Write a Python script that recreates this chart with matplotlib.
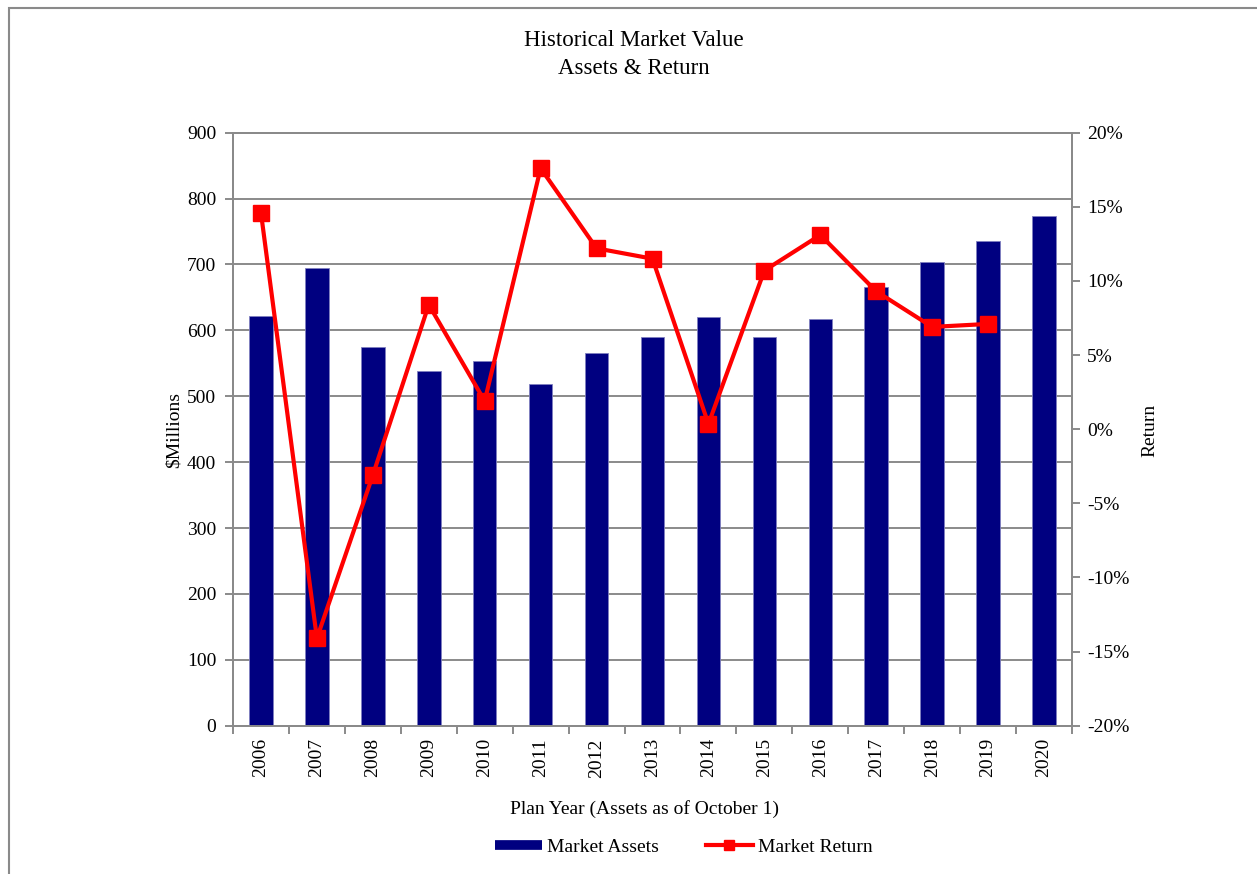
import matplotlib
matplotlib.use("Agg")
import matplotlib.pyplot as plt
import numpy as np
from matplotlib.lines import Line2D
from matplotlib.patches import Rectangle
from matplotlib.ticker import FuncFormatter, MultipleLocator, FixedLocator

years = ["2006", "2007", "2008", "2009", "2010", "2011", "2012", "2013",
         "2014", "2015", "2016", "2017", "2018", "2019", "2020"]
market_assets = [622, 694, 575, 538, 554, 518, 565, 590, 620, 590, 617, 666, 704, 735, 773]
market_return = [14.6, -14.1, -3.1, 8.4, 1.9, 17.6, 12.2, 11.5, 0.35, 10.7, 13.1, 9.3, 6.9, 7.1, np.nan]

plt.rcParams['font.family'] = ['Liberation Serif', 'DejaVu Serif']
FS = 14
GRAY = '#8a8a8a'
NAVY = '#000080'
RED = '#ff0000'

W, H = 1257, 874
fig = plt.figure(figsize=(W / 100, H / 100), dpi=100)

# outer frame (partially cropped in reference)
fig.patches.append(Rectangle((9 / W, -0.1), 1.2, 1 - 8 / H + 0.1, transform=fig.transFigure,
                             fill=False, edgecolor=GRAY, linewidth=1.5))

left, right, top, bottom = 233 / W, 1072 / W, 1 - 132.7 / H, 1 - 725.7 / H
ax = fig.add_axes([left, bottom, right - left, top - bottom])
ax2 = ax.twinx()

x = np.arange(len(years))
ax.bar(x, market_assets, width=0.42, color=NAVY, edgecolor='#8080c0', linewidth=0.6, zorder=3)
ax.set_xlim(-0.5, len(years) - 0.5)
ax.set_ylim(0, 900)
ax.yaxis.set_major_locator(MultipleLocator(100))
ax.grid(axis='y', color=GRAY, linewidth=1.4, zorder=0)
ax.set_axisbelow(True)

ax.xaxis.set_major_locator(FixedLocator(np.arange(-0.5, len(years), 1.0)))
ax.xaxis.set_major_formatter(FuncFormatter(lambda v, p: ""))
ax.xaxis.set_minor_locator(FixedLocator(x))
ax.set_xticklabels(years, minor=True, rotation=90, fontsize=FS)
ax.tick_params(axis='x', which='major', direction='out', length=6, color=GRAY, width=1.4)
ax.tick_params(axis='x', which='minor', length=0, pad=9)
ax.tick_params(axis='y', direction='out', length=6, color=GRAY, width=1.4, labelsize=FS, pad=6)

for s in ax.spines.values():
    s.set_color(GRAY)
    s.set_linewidth(1.4)
for s in ax2.spines.values():
    s.set_color(GRAY)
    s.set_linewidth(1.4)

ax2.plot(x, market_return, color=RED, linewidth=3, marker='s', markersize=11,
         markerfacecolor=RED, markeredgecolor=RED, zorder=5)
ax2.set_ylim(-20, 20)
ax2.yaxis.set_major_locator(MultipleLocator(5))
ax2.yaxis.set_major_formatter(FuncFormatter(lambda v, p: f"{int(round(v))}%"))
ax2.tick_params(axis='y', direction='out', length=6, color=GRAY, width=1.4, labelsize=FS, pad=5)

fig.text(174 / W, 1 - 430 / H, "$Millions", rotation=90, ha='center', va='center', fontsize=FS)
fig.text(1150 / W, 1 - 430 / H, "Return", rotation=90, ha='center', va='center', fontsize=FS)
fig.text(645 / W, 1 - 809 / H, "Plan Year (Assets as of October 1)", ha='center', va='center', fontsize=FS)

fig.text(634 / W, 1 - 41 / H, "Historical Market Value", ha='center', va='center', fontsize=16.5)
fig.text(634 / W, 1 - 68 / H, "Assets & Return", ha='center', va='center', fontsize=16.5)

handles = [Line2D([0], [0], color=NAVY, linewidth=7, solid_capstyle='butt'),
           Line2D([0], [0], color=RED, linewidth=3, marker='s', markersize=7)]
fig.legend(handles, ["Market Assets", "Market Return"], loc='center',
           bbox_to_anchor=(684 / W, 1 - 847 / H), ncol=2, frameon=False, fontsize=FS,
           handlelength=2.4, handletextpad=0.3, columnspacing=2.4)

fig.savefig("out.png", dpi=100)
